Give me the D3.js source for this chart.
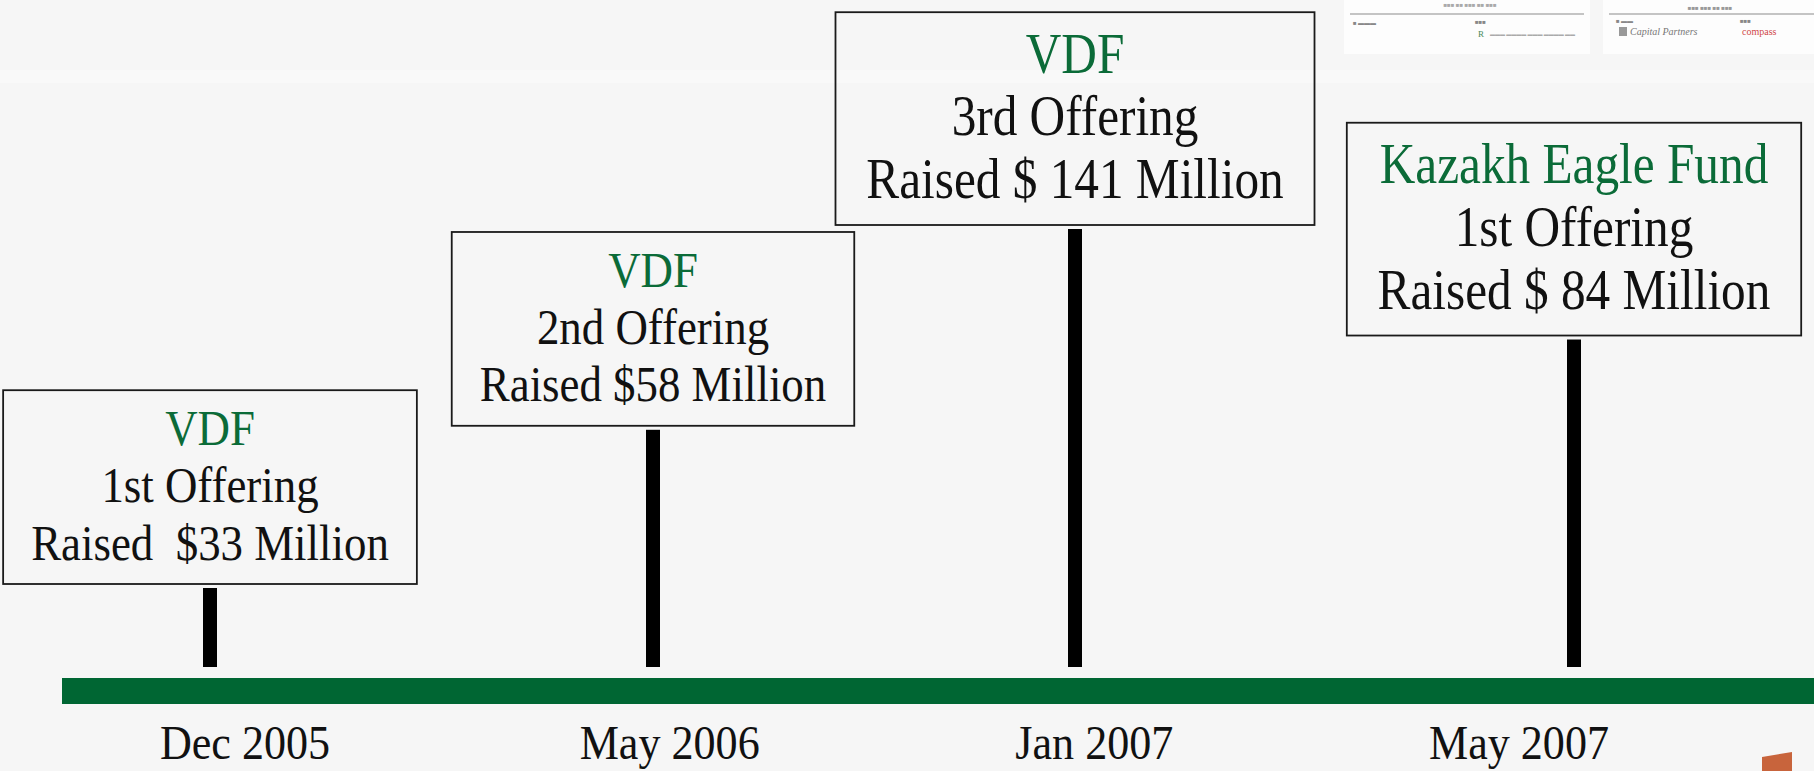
<!DOCTYPE html>
<html>
<head>
<meta charset="utf-8">
<script src="https://cdn.jsdelivr.net/npm/d3@7"></script>
<style>
  html, body { margin: 0; padding: 0; background: #f6f6f6; overflow: hidden; }
  svg { display: block; }
  text { font-family: "Liberation Serif", "DejaVu Serif", serif; }
</style>
</head>
<body>
<svg id="chart" width="1814" height="771"></svg>
<script>
// ---- data ----
const dates      = ["Dec 2005", "May 2006", "Jan 2007", "May 2007"];
const funds      = ["VDF", "VDF", "VDF", "Kazakh Eagle Fund"];
const offerings  = ["1st Offering", "2nd Offering", "3rd Offering", "1st Offering"];
const raisedUSDm = [33, 58, 141, 84];
const raisedText = ["Raised  $33 Million", "Raised $58 Million", "Raised $ 141 Million", "Raised $ 84 Million"];

// ---- styles ----
const boxFontSize = [51, 51, 56, 56];
const condense = 0.88;
const green = "#0b6b38";
const barGreen = "#006633";

const W = 1814, H = 771;
const svg = d3.select("#chart");

// background
svg.append("rect").attr("width", W).attr("height", H).attr("fill", "#f6f6f6");
svg.append("rect").attr("x", 0).attr("y", 70).attr("width", W).attr("height", 13).attr("fill", "#f9f9f9");

// scales
const xStem = d3.scaleOrdinal().domain(dates).range([210, 653, 1075, 1574]);
const xDate = d3.scalePoint().domain(dates).range([245, 1519]);
const yTop  = d3.scalePow().exponent(-0.3).domain([33, 141]).range([588, 229]);
const axisY = 678, axisH = 26, stemBottom = 667;

const events = dates.map((d, i) => ({
  date: d, fund: funds[i], offering: offerings[i], value: raisedUSDm[i], text: raisedText[i], fs: boxFontSize[i]
}));

// timeline bar
svg.append("rect")
  .attr("x", 62).attr("y", axisY)
  .attr("width", W - 62).attr("height", axisH)
  .attr("fill", barGreen);

// stems
svg.selectAll("rect.stem").data(events).join("rect")
  .attr("class", "stem")
  .attr("x", d => xStem(d.date) - 7)
  .attr("y", d => yTop(d.value))
  .attr("width", 14)
  .attr("height", d => stemBottom - yTop(d.value))
  .attr("fill", "#000");

// boxes
events.forEach(d => {
  const fs = d.fs;
  const cx = xStem(d.date);
  const bottom = yTop(d.value) - 4;
  const h = 3.8 * fs;
  const top = bottom - h;
  const g = svg.append("g");
  const rect = g.append("rect");
  const lines = [
    { t: d.fund, c: green },
    { t: d.offering, c: "#111" },
    { t: d.text, c: "#111" }
  ];
  let maxW = 0;
  lines.forEach((ln, k) => {
    const t = g.append("text")
      .attr("transform", `translate(${cx},${top + 1.08 * fs + k * 1.12 * fs}) scale(${condense},1)`)
      .attr("text-anchor", "middle")
      .style("white-space", "pre")
      .attr("font-size", fs)
      .attr("fill", ln.c)
      .text(ln.t);
    maxW = Math.max(maxW, t.node().getComputedTextLength() * condense);
  });
  const w = maxW + 1.1 * fs;
  rect.attr("x", cx - w / 2).attr("y", top)
    .attr("width", w).attr("height", h)
    .attr("fill", "none")
    .attr("stroke", "#1a1a1a").attr("stroke-width", 1.8);
});

// date labels
svg.selectAll("text.date").data(dates).join("text")
  .attr("class", "date")
  .attr("transform", d => `translate(${xDate(d)},759) scale(0.9,1)`)
  .attr("text-anchor", "middle")
  .attr("font-size", 49)
  .attr("fill", "#111")
  .text(d => d);

// thumbnails of other slides at top right
const thumbs = svg.append("g");
thumbs.append("rect").attr("x", 1344).attr("y", -2).attr("width", 246).attr("height", 56).attr("fill", "#fdfdfd");
thumbs.append("rect").attr("x", 1603).attr("y", -2).attr("width", 211).attr("height", 56).attr("fill", "#fdfdfd");
thumbs.append("line").attr("x1", 1350).attr("x2", 1584).attr("y1", 14).attr("y2", 14).attr("stroke", "#c4c4c4").attr("stroke-width", 2);
thumbs.append("line").attr("x1", 1609).attr("x2", 1814).attr("y1", 14).attr("y2", 14).attr("stroke", "#c4c4c4").attr("stroke-width", 2);
thumbs.append("text").attr("x", 1470).attr("y", 7).attr("font-size", 6).attr("text-anchor", "middle").attr("fill", "#aaa").text("■■■ ■■ ■■■ ■■ ■■■");
thumbs.append("text").attr("x", 1710).attr("y", 10).attr("font-size", 6).attr("text-anchor", "middle").attr("fill", "#999").text("■■■ ■■■ ■■ ■■■");
thumbs.append("text").attr("x", 1353).attr("y", 25).attr("font-size", 6).attr("fill", "#888").text("■ ▬▬▬");
thumbs.append("text").attr("x", 1475).attr("y", 24).attr("font-size", 6).attr("fill", "#888").text("■■■");
thumbs.append("text").attr("x", 1478).attr("y", 37).attr("font-size", 9).attr("fill", "#4a8a5a").text("R");
thumbs.append("text").attr("x", 1490).attr("y", 36).attr("font-size", 5).attr("fill", "#aaa").text("▬▬▬ ▬▬▬▬ ▬▬▬ ▬▬▬▬ ▬▬");
thumbs.append("text").attr("x", 1616).attr("y", 23).attr("font-size", 6).attr("fill", "#888").text("■ ▬▬");
thumbs.append("rect").attr("x", 1619).attr("y", 27).attr("width", 8).attr("height", 9).attr("fill", "#999");
thumbs.append("text").attr("x", 1630).attr("y", 35).attr("font-size", 10).attr("font-style", "italic").attr("fill", "#777").text("Capital Partners");
thumbs.append("text").attr("x", 1740).attr("y", 23).attr("font-size", 6).attr("fill", "#888").text("■■■");
thumbs.append("text").attr("x", 1742).attr("y", 35).attr("font-size", 10).attr("fill", "#d04848").text("compass");

// orange corner mark
svg.append("polygon").attr("points", "1762,757 1792,752 1792,771 1762,771").attr("fill", "#c8643c");
</script>
</body>
</html>
